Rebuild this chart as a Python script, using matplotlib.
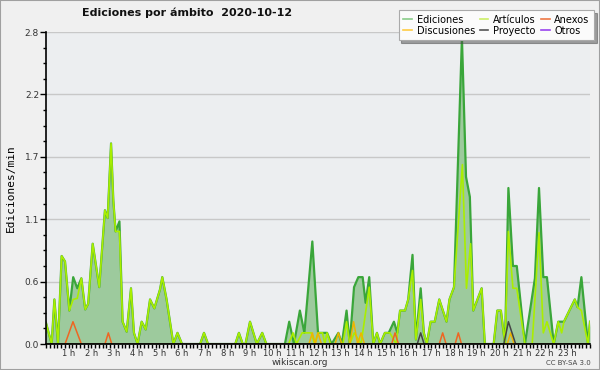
import numpy as np
import matplotlib
matplotlib.use("Agg")
from matplotlib import pyplot as plt
from matplotlib.patches import Rectangle

# hours (0-24) and edits/min
edits_h = [0.0, 0.25, 0.37, 0.53, 0.69, 0.84, 1.03, 1.20, 1.38, 1.56, 1.73, 1.86, 2.06, 2.35,
           2.60, 2.72, 2.87, 2.97, 3.07, 3.24, 3.38, 3.56, 3.75, 3.88, 4.04, 4.22, 4.40, 4.59,
           4.78, 5.03, 5.13, 5.32, 5.62, 5.80, 6.00, 6.80, 6.97, 7.15, 8.35, 8.51, 8.68, 8.80,
           9.00, 9.30, 9.54, 9.72, 10.54, 10.73, 10.94, 11.20, 11.40, 11.75, 12.00, 12.20, 12.40,
           12.60, 12.90, 13.05, 13.26, 13.40, 13.59, 13.78, 13.97, 14.10, 14.26, 14.44, 14.60,
           14.74, 14.95, 15.12, 15.35, 15.50, 15.62, 15.84, 15.98, 16.17, 16.32, 16.53, 16.67,
           16.80, 16.97, 17.15, 17.35, 17.67, 17.80, 18.00, 18.35, 18.53, 18.70, 18.85, 19.22,
           19.36, 19.75, 19.91, 20.07, 20.25, 20.40, 20.60, 20.77, 21.13, 21.57, 21.75, 21.94,
           22.10, 22.40, 22.60, 22.85, 23.33, 23.45, 23.62, 23.91, 24.0]
edits_v = [0.19, 0.0, 0.40, 0.0, 0.79, 0.74, 0.30, 0.60, 0.50, 0.59, 0.31, 0.36, 0.90, 0.51,
           1.20, 1.13, 1.80, 1.29, 1.01, 1.10, 0.20, 0.11, 0.50, 0.10, 0.0, 0.20, 0.13, 0.40,
           0.32, 0.49, 0.60, 0.40, 0.0, 0.10, 0.0, 0.0, 0.10, 0.0, 0.0, 0.10, 0.0, 0.0,
           0.20, 0.0, 0.10, 0.0, 0.0, 0.20, 0.0, 0.30, 0.10, 0.92, 0.10, 0.10, 0.10,
           0.0, 0.10, 0.0, 0.30, 0.0, 0.51, 0.60, 0.60, 0.37, 0.60, 0.0, 0.10,
           0.0, 0.10, 0.10, 0.20, 0.10, 0.30, 0.30, 0.40, 0.80, 0.04, 0.50, 0.10,
           0.0, 0.20, 0.20, 0.40, 0.20, 0.40, 0.51, 2.75, 1.50, 1.32, 0.30, 0.50,
           0.0, 0.0, 0.30, 0.30, 0.0, 1.40, 0.70, 0.70, 0.0, 0.59, 1.40, 0.60,
           0.60, 0.0, 0.20, 0.20, 0.40, 0.33, 0.60, 0.0, 0.20]

art_h = [0.0, 0.25, 0.37, 0.53, 0.69, 0.84, 1.03, 1.20, 1.38, 1.56, 1.73, 1.86, 2.06, 2.35,
         2.60, 2.72, 2.87, 2.97, 3.07, 3.24, 3.38, 3.56, 3.75, 3.88, 4.04, 4.22, 4.40, 4.59,
         4.78, 5.03, 5.13, 5.32, 5.62, 5.80, 6.00, 6.80, 6.97, 7.15, 8.35, 8.51, 8.68, 8.80,
         9.00, 9.30, 9.54, 9.72, 10.70, 10.90, 11.05, 11.30, 11.70, 11.85, 12.00, 12.20, 12.30,
         12.40, 12.55, 13.10, 13.26, 13.40, 13.60, 13.90, 14.26, 14.44, 14.60, 14.74, 14.95,
         15.17, 15.45, 15.62, 15.84, 15.98, 16.17, 16.32, 16.53, 16.67, 16.80, 16.97, 17.15,
         17.35, 17.67, 17.80, 18.00, 18.37, 18.55, 18.73, 18.85, 19.22, 19.36, 19.75, 19.91,
         20.07, 20.25, 20.40, 20.60, 20.77, 21.13, 21.45, 21.75, 21.94, 22.10, 22.25, 22.40,
         22.60, 22.75, 22.85, 23.33, 23.45, 23.62, 23.91, 24.0]
art_v = [0.19, 0.0, 0.40, 0.0, 0.79, 0.74, 0.30, 0.40, 0.41, 0.59, 0.31, 0.36, 0.90, 0.51,
         1.20, 1.13, 1.80, 1.29, 1.01, 1.01, 0.20, 0.11, 0.50, 0.10, 0.0, 0.20, 0.13, 0.40,
         0.32, 0.49, 0.60, 0.40, 0.0, 0.10, 0.0, 0.0, 0.10, 0.0, 0.0, 0.10, 0.0, 0.0,
         0.20, 0.0, 0.10, 0.0, 0.0, 0.10, 0.0, 0.10, 0.10, 0.0, 0.10, 0.10, 0.0,
         0.10, 0.0, 0.0, 0.20, 0.0, 0.10, 0.0, 0.51, 0.0, 0.10, 0.0, 0.10,
         0.10, 0.0, 0.30, 0.30, 0.40, 0.66, 0.04, 0.40, 0.10, 0.0, 0.20, 0.20,
         0.40, 0.20, 0.40, 0.51, 1.61, 0.50, 0.90, 0.30, 0.50, 0.0, 0.0, 0.30,
         0.30, 0.0, 1.01, 0.50, 0.50, 0.0, 0.0, 1.00, 0.10, 0.20, 0.10, 0.0,
         0.20, 0.10, 0.20, 0.40, 0.33, 0.30, 0.0, 0.20]

anx_h = [0, 0.84, 1.19, 1.56, 2.60, 2.75, 2.90, 15.25, 15.40, 15.55, 17.35, 17.50, 17.65,
         18.05, 18.19, 18.33, 24]
anx_v = [0, 0, 0.2, 0, 0, 0.1, 0, 0, 0.1, 0, 0, 0.1, 0, 0, 0.1, 0, 0]

dis_h = [0, 11.60, 11.75, 11.88, 12.00, 12.15, 12.75, 12.90, 13.05, 13.40, 13.57, 13.75,
         13.90, 14.05, 20.35, 20.50, 20.65, 24]
dis_v = [0, 0, 0.1, 0, 0.1, 0, 0, 0.1, 0, 0, 0.2, 0, 0.1, 0, 0, 0.1, 0, 0]

pro_h = [0, 16.38, 16.53, 16.68, 20.20, 20.40, 20.72, 24]
pro_v = [0, 0, 0.1, 0, 0, 0.2, 0, 0]

otr_h = [0, 24]
otr_v = [0, 0]

hour_labels = ["%d h" % h for h in range(1, 24)]

fig = plt.figure(figsize=(6, 3.7), dpi=100, facecolor="#f0f0f0")
fig.patches.append(Rectangle((0, 0), 1, 1, transform=fig.transFigure, fill=False,
                             edgecolor="#a0a0a0", lw=1.5))
ax = fig.add_axes([46 / 600, 26 / 370, 544 / 600, 312 / 370], facecolor="#eceef0")

ax.fill_between(edits_h, edits_v, 0, color="#9dca9d", lw=0, zorder=2)
ax.plot(otr_h, otr_v, color="#9944ee", lw=1.2, zorder=1)
ax.plot(edits_h, edits_v, color="#3aa63a", lw=1.6, zorder=3)
ax.plot(art_h, art_v, color="#aaee00", lw=1.2, zorder=4)
ax.plot(anx_h, anx_v, color="#ee6622", lw=1.1, zorder=5)
ax.plot(dis_h, dis_v, color="#eeb400", lw=1.1, zorder=5)
ax.plot(pro_h, pro_v, color="#444444", lw=1.1, zorder=5)

ax.set_xlim(0, 24)
ax.set_ylim(0, 2.8)
yt = np.linspace(0, 2.8, 6)
ax.set_yticks(yt)
ax.set_yticklabels(["%.1f" % v for v in yt])
ax.set_yticks(np.linspace(0, 2.8, 21), minor=True)
ax.set_xticks(range(1, 24))
ax.set_xticklabels(hour_labels)
ax.set_xticks(np.arange(0, 24.01, 1 / 6), minor=True)
ax.grid(axis="y", which="major", color="#c8c8c8", lw=1, zorder=0)
for s in ["top", "right"]:
    ax.spines[s].set_visible(False)
for s in ["left", "bottom"]:
    ax.spines[s].set_color("black")
    ax.spines[s].set_linewidth(1.2)
    ax.spines[s].set_zorder(6)
ax.tick_params(axis="y", which="major", length=4, width=1, labelsize=6.5, pad=1,
               labelcolor="#333333")
ax.tick_params(axis="y", which="minor", length=2.5, width=1)
ax.tick_params(axis="x", which="both", length=3, width=1, labelsize=6, pad=0.5,
               labelcolor="#333333")
ax.set_ylabel("Ediciones/min", family="DejaVu Sans Mono", fontsize=8, labelpad=6)

fig.text(0.312, 0.965, "Ediciones por ámbito  2020-10-12", ha="center", va="center",
         fontsize=8, fontweight="bold", color="#111111")
fig.text(0.5, 0.019, "wikiscan.org", ha="center", va="center", fontsize=6.5, color="#333333")
fig.text(0.985, 0.018, "CC BY-SA 3.0", ha="right", va="center", fontsize=5, color="#444444")

handles = [
    plt.Line2D([], [], color="#88cc88", lw=1.2),
    plt.Line2D([], [], color="#ffcc44", lw=1.2),
    plt.Line2D([], [], color="#ccee66", lw=1.2),
    plt.Line2D([], [], color="#555555", lw=1.2),
    plt.Line2D([], [], color="#ee7744", lw=1.2),
    plt.Line2D([], [], color="#9944ee", lw=1.2),
]
labels = ["Ediciones", "Discusiones", "Artículos", "Proyecto", "Anexos", "Otros"]
leg = fig.legend(handles, labels, ncol=3, loc="upper right", bbox_to_anchor=(0.99, 0.972),
                 fontsize=7, frameon=True, shadow=True, fancybox=False, handlelength=0.9,
                 handletextpad=0.5, columnspacing=0.5, labelspacing=0.1, borderpad=0.45,
                 borderaxespad=0)
leg.get_frame().set_facecolor("#fbfbfb")
leg.get_frame().set_edgecolor("#aaaaaa")
leg.get_frame().set_linewidth(0.8)

fig.savefig("out.png", dpi=100, facecolor=fig.get_facecolor())
